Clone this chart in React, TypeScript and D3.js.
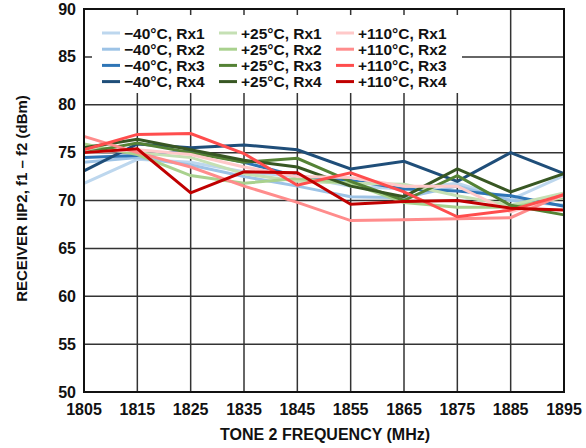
import React, { useEffect, useRef } from 'react';
import * as d3 from 'd3';

// Tone 2 frequency (MHz)
const frequencies = [1805, 1815, 1825, 1835, 1845, 1855, 1865, 1875, 1885, 1895];
const yTicks = [50, 55, 60, 65, 70, 75, 80, 85, 90];

const seriesNames = [
  '\u221240\u00b0C, Rx1', '\u221240\u00b0C, Rx2', '\u221240\u00b0C, Rx3', '\u221240\u00b0C, Rx4',
  '+25\u00b0C, Rx1', '+25\u00b0C, Rx2', '+25\u00b0C, Rx3', '+25\u00b0C, Rx4',
  '+110\u00b0C, Rx1', '+110\u00b0C, Rx2', '+110\u00b0C, Rx3', '+110\u00b0C, Rx4',
];

const seriesColors = [
  '#BDD7EE', '#9DC3E6', '#2E75B6', '#1F4E79',
  '#C5E0B4', '#A9D18E', '#548235', '#385723',
  '#FFC9C9', '#FF8C8C', '#FF4D4D', '#C00000',
];

// IIP2 values (dBm)
const m40Rx1 = [71.8, 74.3, 74.0, 73.0, 72.5, 71.5, 71.2, 71.8, 70.1, 72.6];
const m40Rx2 = [74.0, 74.5, 73.7, 72.5, 71.5, 70.4, 70.3, 71.5, 70.0, 69.5];
const m40Rx3 = [74.5, 74.7, 75.2, 74.0, 72.5, 72.1, 71.2, 71.0, 70.5, 69.4];
const m40Rx4 = [73.1, 75.9, 75.5, 75.8, 75.3, 73.3, 74.1, 72.0, 75.0, 72.8];
const p25Rx1 = [75.5, 75.0, 74.5, 72.8, 72.0, 71.8, 71.7, 70.5, 69.5, 70.8];
const p25Rx2 = [75.9, 74.8, 72.6, 71.8, 72.3, 71.8, 69.8, 69.3, 69.3, 70.3];
const p25Rx3 = [75.0, 76.0, 75.0, 74.0, 74.4, 72.0, 70.0, 72.6, 69.5, 68.5];
const p25Rx4 = [75.5, 76.4, 75.3, 74.2, 73.5, 71.5, 70.4, 73.3, 70.9, 72.8];
const p110Rx1 = [75.0, 75.3, 74.8, 73.5, 72.5, 72.4, 71.5, 71.5, 68.8, 70.5];
const p110Rx2 = [76.7, 75.0, 73.5, 71.5, 69.8, 67.9, 68.0, 68.1, 68.2, 70.7];
const p110Rx3 = [75.3, 76.9, 77.0, 74.9, 71.6, 72.9, 70.9, 68.3, 69.0, 70.6];
const p110Rx4 = [75.0, 75.4, 70.8, 73.0, 72.9, 69.6, 69.9, 70.0, 69.2, 69.0];

const seriesValues = [
  m40Rx1, m40Rx2, m40Rx3, m40Rx4,
  p25Rx1, p25Rx2, p25Rx3, p25Rx4,
  p110Rx1, p110Rx2, p110Rx3, p110Rx4,
];

const App: React.FC = () => {
  const svgRef = useRef<SVGSVGElement>(null);
  const width = 586;
  const height = 448;

  useEffect(() => {
    if (!svgRef.current) return;
    d3.select(svgRef.current).selectAll('*').remove();
    const svg = d3.select(svgRef.current);

    const left = 84, right = 564, top = 9, bottom = 392;
    const font = 'Liberation Sans, Arial, Helvetica, sans-serif';

    const x = d3.scaleLinear().domain([1805, 1895]).range([left, right]);
    const y = d3.scaleLinear().domain([50, 90]).range([bottom, top]);

    // Grid
    const grid = svg.append('g');
    frequencies.forEach(f => {
      grid.append('line')
        .attr('x1', x(f)).attr('x2', x(f))
        .attr('y1', top).attr('y2', bottom)
        .attr('stroke', '#333').attr('stroke-width', 1.5);
    });
    yTicks.forEach(t => {
      grid.append('line')
        .attr('x1', left).attr('x2', right)
        .attr('y1', y(t)).attr('y2', y(t))
        .attr('stroke', '#333').attr('stroke-width', 1.5);
    });

    // Legend background hides grid behind it
    svg.append('rect')
      .attr('x', 92).attr('y', 15)
      .attr('width', 370).attr('height', 78)
      .attr('fill', '#fff');

    // Series
    const line = d3.line<number>()
      .x((_, i) => x(frequencies[i]))
      .y(d => y(d));

    seriesValues.forEach((vals, i) => {
      svg.append('path')
        .attr('d', line(vals) as string)
        .attr('fill', 'none')
        .attr('stroke', seriesColors[i])
        .attr('stroke-width', 3)
        .attr('stroke-linejoin', 'miter');
    });

    // Frame
    svg.append('rect')
      .attr('x', left).attr('y', top)
      .attr('width', right - left).attr('height', bottom - top)
      .attr('fill', 'none')
      .attr('stroke', '#111').attr('stroke-width', 2);

    // Legend
    const legend = svg.append('g');
    seriesNames.forEach((name, i) => {
      const col = Math.floor(i / 4);
      const row = i % 4;
      const lx = [102, 219, 336][col];
      const ly = 33 + row * 16.2;
      legend.append('line')
        .attr('x1', lx).attr('x2', lx + 18)
        .attr('y1', ly).attr('y2', ly)
        .attr('stroke', seriesColors[i])
        .attr('stroke-width', 3);
      legend.append('text')
        .attr('x', lx + 22).attr('y', ly)
        .attr('dominant-baseline', 'central')
        .attr('font-family', font)
        .attr('font-size', '15.5px')
        .attr('font-weight', 'bold')
        .attr('fill', '#111')
        .text(name);
    });

    // Tick labels
    yTicks.forEach(t => {
      svg.append('text')
        .attr('x', 76).attr('y', y(t))
        .attr('text-anchor', 'end')
        .attr('dominant-baseline', 'central')
        .attr('font-family', font)
        .attr('font-size', '16px')
        .attr('font-weight', 'bold')
        .attr('fill', '#111')
        .text(t);
    });
    frequencies.forEach(f => {
      svg.append('text')
        .attr('x', x(f)).attr('y', 415)
        .attr('text-anchor', 'middle')
        .attr('font-family', font)
        .attr('font-size', '16px')
        .attr('font-weight', 'bold')
        .attr('fill', '#111')
        .text(f);
    });

    // Axis titles
    svg.append('text')
      .attr('x', (left + right) / 2 + 1).attr('y', 440)
      .attr('text-anchor', 'middle')
      .attr('font-family', font)
      .attr('font-size', '16px')
      .attr('font-weight', 'bold')
      .attr('fill', '#111')
      .text('TONE 2 FREQUENCY (MHz)');

    svg.append('text')
      .attr('transform', `translate(27, ${(top + bottom) / 2 - 2}) rotate(-90)`)
      .attr('text-anchor', 'middle')
      .attr('font-family', font)
      .attr('font-size', '15px')
      .attr('font-weight', 'bold')
      .attr('fill', '#111')
      .text('RECEIVER IIP2, f1 \u2013 f2 (dBm)');
  }, []);

  return (
    <svg ref={svgRef} width={width} height={height}
      style={{ position: 'absolute', left: 0, top: 0, background: '#fff' }} />
  );
};

export default App;
